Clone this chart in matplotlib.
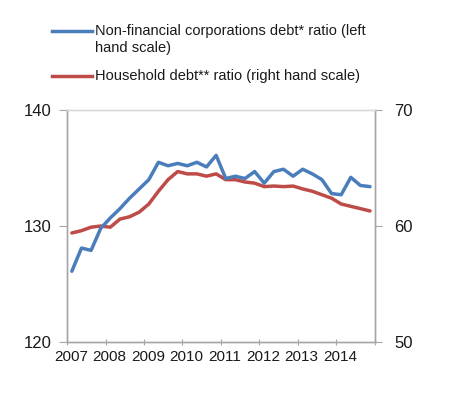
import numpy as np
import matplotlib.pyplot as plt
from matplotlib.lines import Line2D

plt.rcParams['font.family'] = ['Liberation Sans', 'DejaVu Sans']

# quarterly data 2007Q1 - 2014Q4
years = [2007, 2008, 2009, 2010, 2011, 2012, 2013, 2014]
nfc_debt = [126.1, 128.1, 127.9, 129.8, 130.7, 131.5, 132.4, 133.2,
            134.0, 135.5, 135.2, 135.4, 135.2, 135.5, 135.1, 136.1,
            134.1, 134.3, 134.1, 134.7, 133.7, 134.7, 134.9, 134.3,
            134.9, 134.5, 134.0, 132.8, 132.7, 134.2, 133.5, 133.4]
hh_debt = [59.4, 59.6, 59.9, 60.0, 59.9, 60.6, 60.8, 61.2,
           61.9, 63.0, 64.0, 64.7, 64.5, 64.5, 64.3, 64.5,
           64.0, 64.0, 63.8, 63.7, 63.4, 63.45, 63.4, 63.45,
           63.2, 63.0, 62.7, 62.4, 61.9, 61.7, 61.5, 61.3]

blue = '#4a7ebb'
red = '#be4b48'
grey = '#a6a6a6'
txt = '#1a1a1a'

x = years[0] + (np.arange(len(nfc_debt)) + 0.5) / 4.0

fig = plt.figure(figsize=(4.5, 3.99), dpi=100)
ax = fig.add_axes([0.149, 0.143, 0.684, 0.581])
ax2 = ax.twinx()

ax.plot(x, nfc_debt, color=blue, lw=2.5, solid_capstyle='round', zorder=3)
ax2.plot(x, hh_debt, color=red, lw=2.5, solid_capstyle='round', zorder=2)
ax.set_zorder(ax2.get_zorder() + 1)
ax.patch.set_visible(False)

ax.set_xlim(2007, 2015)
ax.set_ylim(120, 140)
ax2.set_ylim(50, 70)
ax.set_yticks([120, 130, 140])
ax2.set_yticks([50, 60, 70])

ax.set_xticks(range(2007, 2016))
ax.set_xticklabels([])
ax.set_xticks([y + 0.1 for y in years], minor=True)
ax.set_xticklabels([str(y) for y in years], minor=True)
ax.tick_params(axis='x', which='minor', length=0, pad=6, labelsize=11, labelcolor=txt)
ax.tick_params(axis='x', which='major', length=4, direction='inout', color=grey)
ax.tick_params(axis='y', length=6, direction='out', color=grey, labelsize=12, pad=5, labelcolor=txt)
ax2.tick_params(axis='y', length=5, direction='out', color=grey, labelsize=12, pad=9, labelcolor=txt)

for a in (ax, ax2):
    for s in a.spines.values():
        s.set_color(grey)
        s.set_linewidth(1.0)
    a.spines['top'].set_color('#d9d9d9')

# legend drawn by hand so the handle sits on the first text line
fig.add_artist(Line2D([52 / 450, 92 / 450], [1 - 31 / 399, 1 - 31 / 399], color=blue, lw=2.5))
fig.add_artist(Line2D([52 / 450, 92 / 450], [1 - 76 / 399, 1 - 76 / 399], color=red, lw=2.5))
fig.text(95 / 450, 1 - 31 / 399, 'Non-financial corporations debt* ratio (left',
         fontsize=10.5, va='center', color=txt)
fig.text(95 / 450, 1 - 48 / 399, 'hand scale)', fontsize=10.5, va='center', color=txt)
fig.text(95 / 450, 1 - 76 / 399, 'Household debt** ratio (right hand scale)',
         fontsize=10.5, va='center', color=txt)

fig.savefig('out.png', dpi=100)
